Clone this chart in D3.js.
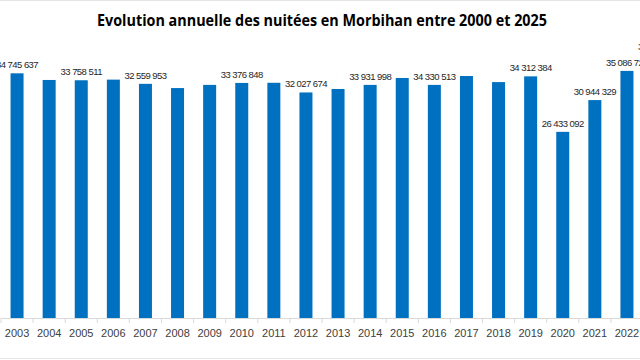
<!DOCTYPE html>
<html>
<head>
<meta charset="utf-8">
<script src="https://cdn.jsdelivr.net/npm/d3@7"></script>
<style>
  html, body { margin: 0; padding: 0; background: #fff; }
  svg { display: block; }
</style>
</head>
<body>
<svg id="chart" width="640" height="360"></svg>
<script>
// ---- data ----
const title = "Evolution annuelle des nuitées en Morbihan entre 2000 et 2025";
const years = ["2003","2004","2005","2006","2007","2008","2009","2010","2011","2012",
               "2013","2014","2015","2016","2017","2018","2019","2020","2021","2022","2023"];
const nuitees = [34745637, 33800000, 33758511, 33850000, 33250000, 32650000, 33100000,
                 33376848, 33400000, 32027674, 32520000, 33100000, 34080000, 33100000,
                 34360000, 33500000, 34312384, 26433092, 30944329, 35086720, 37300000];
const labels = ["34 745 637", null, "33 758 511", null, "32 559 953", null, null,
                "33 376 848", null, "32 027 674", null, "33 931 998", null, "34 330 513",
                null, null, "34 312 384", "26 433 092", "30 944 329", "35 086 720", "37 300 000"];
const yMax = 40000000;

// ---- layout ----
const W = 640, H = 360;
const baseY = 318;
const svg = d3.select("#chart");

svg.append("rect").attr("x", 0).attr("y", 0).attr("width", W).attr("height", H).attr("fill", "#fff");
// faint frame lines at the top and bottom of the picture
svg.append("line").attr("x1", 0).attr("x2", W).attr("y1", 0.5).attr("y2", 0.5).attr("stroke", "#e6e6e6");
svg.append("line").attr("x1", 0).attr("x2", W).attr("y1", 358.5).attr("y2", 358.5).attr("stroke", "#e6e6e6");

const x = d3.scaleBand().domain(years).range([1, 1 + years.length * 32.1]).paddingInner(0.595).paddingOuter(0.2975);
const y = d3.scaleLinear().domain([0, yMax]).range([baseY, baseY - yMax / 142000]);

svg.append("text")
  .attr("x", 322).attr("y", 26)
  .attr("text-anchor", "middle")
  .attr("font-family", "'Open Sans', 'Noto Sans', sans-serif")
  .attr("font-weight", "bold")
  .attr("font-size", 16.5)
  .attr("textLength", 450).attr("lengthAdjust", "spacingAndGlyphs")
  .attr("fill", "#000")
  .text(title);

// bars
svg.append("g").selectAll("rect")
  .data(years)
  .join("rect")
  .attr("x", (d) => x(d))
  .attr("width", x.bandwidth())
  .attr("y", (d, i) => y(nuitees[i]))
  .attr("height", (d, i) => baseY - y(nuitees[i]))
  .attr("fill", "#0070C0");

// x axis
const axis = svg.append("g").attr("transform", `translate(0,${baseY})`)
  .call(d3.axisBottom(x).tickSize(0).tickPadding(11));
axis.select(".domain").attr("stroke", "#d9d9d9");
axis.selectAll(".tick text")
  .attr("font-family", "'Liberation Sans', Arial, sans-serif")
  .attr("font-size", 11)
  .attr("fill", "#404040");
// category separator ticks
const step = x.step();
svg.append("g").selectAll("line")
  .data(years)
  .join("line")
  .attr("x1", (d) => x(d) + x.bandwidth() / 2 - step / 2)
  .attr("x2", (d) => x(d) + x.bandwidth() / 2 - step / 2)
  .attr("y1", baseY).attr("y2", baseY + 5)
  .attr("stroke", "#d9d9d9");

// data labels
svg.append("g").selectAll("text")
  .data(years.filter((d, i) => labels[i]))
  .join("text")
  .attr("x", (d) => x(d) + x.bandwidth() / 2)
  .attr("y", (d) => y(nuitees[years.indexOf(d)]) - 5)
  .attr("text-anchor", "middle")
  .attr("font-family", "'Liberation Sans', Arial, sans-serif")
  .attr("font-size", 9.5)
  .attr("letter-spacing", -0.55)
  .attr("fill", "#262626")
  .text((d) => labels[years.indexOf(d)]);
</script>
</body>
</html>
